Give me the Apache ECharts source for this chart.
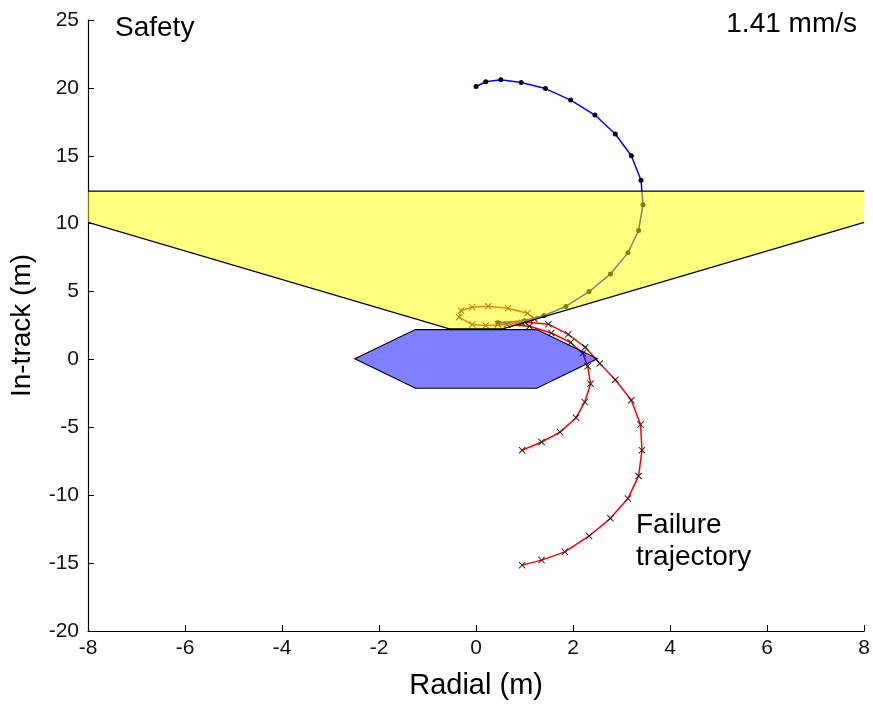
<!DOCTYPE html>
<html>
<head>
<meta charset="utf-8">
<script src="https://cdn.jsdelivr.net/npm/echarts@6/dist/echarts.min.js"></script>
<style>
html,body{margin:0;padding:0;background:#fff;}
#chart{width:873px;height:709px;}
</style>
</head>
<body>
<div id="chart"></div>
<script>
// ---- data ----
var xTicks = [-8, -6, -4, -2, 0, 2, 4, 6, 8];
var yTicks = [-20, -15, -10, -5, 0, 5, 10, 15, 20, 25];

// safety trajectory (blue, dots)
var safetyX = [0.0, 0.2, 0.51, 0.93, 1.43, 1.95, 2.45, 2.87, 3.2, 3.4, 3.44, 3.35, 3.13, 2.77, 2.33, 1.85, 1.4, 1.0, 0.45];
var safetyY = [20.1, 20.45, 20.6, 20.4, 19.95, 19.1, 18.0, 16.6, 15.0, 13.2, 11.4, 9.5, 7.85, 6.3, 5.0, 3.9, 3.24, 2.85, 2.7];

// failure trajectories (red, x markers)
var loopX = [0.64, 0.2, -0.08, -0.35, -0.31, -0.08, 0.25, 0.66, 1.06, 1.2, 0.95, 0.64];
var loopY = [2.57, 2.5, 2.57, 3.11, 3.6, 3.85, 3.92, 3.77, 3.4, 3.0, 2.7, 2.57];

var shortX = [0.45, 1.1, 1.55, 1.95, 2.2, 2.3, 2.36, 2.24, 2.06, 1.73, 1.35, 0.95];
var shortY = [2.6, 2.45, 1.95, 1.25, 0.45, -0.5, -1.79, -3.14, -4.29, -5.35, -6.08, -6.69];

var longX = [0.45, 1.0, 1.49, 1.9, 2.25, 2.55, 2.87, 3.2, 3.39, 3.42, 3.35, 3.13, 2.77, 2.33, 1.83, 1.35, 0.95];
var longY = [2.6, 2.75, 2.6, 1.85, 0.9, -0.3, -1.5, -3.0, -4.8, -6.69, -8.58, -10.25, -11.7, -13.0, -14.17, -14.78, -15.15];

// approach cone (yellow) and spacecraft (hexagon)
var coneX = [-8, 8, 8, 0.55, -0.55, -8];
var coneY = [12.4, 12.4, 10.1, 2.25, 2.25, 10.1];
var hexX = [-2.5, -1.25, 1.25, 2.5, 1.25, -1.25];
var hexY = [0.05, 2.2, 2.2, 0.05, -2.12, -2.12];

function zip(xs, ys) { return xs.map(function (x, i) { return [x, ys[i]]; }); }

var crossPath = 'path://M0,1L1,0L5,4L9,0L10,1L6,5L10,9L9,10L5,6L1,10L0,9L4,5Z';
var fontFam = '"Liberation Sans", Arial, sans-serif';

// cone: fill the whole polygon, outline only the top edge and the slanted edges
var coneSeries = {
  type: 'custom', z: 5, silent: true, coordinateSystem: 'cartesian2d',
  data: [[coneX[0], coneY[0]]], clip: true,
  renderItem: function (params, api) {
    var pts = coneX.map(function (x, i) { return api.coord([x, coneY[i]]); });
    return {
      type: 'group',
      children: [
        { type: 'polygon', shape: { points: pts }, style: { fill: 'rgba(255,255,0,0.5)', stroke: null } },
        { type: 'polyline', shape: { points: [pts[0], pts[1]] }, style: { fill: null, stroke: '#000', lineWidth: 1.2 } },
        { type: 'polyline', shape: { points: [pts[2], pts[3], pts[4], pts[5]] }, style: { fill: null, stroke: '#000', lineWidth: 1.2 } }
      ]
    };
  }
};

var hexSeries = {
  type: 'custom', z: 6, silent: true, coordinateSystem: 'cartesian2d',
  data: [[hexX[0], hexY[0]]], clip: true,
  renderItem: function (params, api) {
    var pts = hexX.map(function (x, i) { return api.coord([x, hexY[i]]); });
    return { type: 'polygon', shape: { points: pts }, style: { fill: 'rgba(0,0,255,0.5)', stroke: '#000', lineWidth: 1.2 } };
  }
};

function redLine(xs, ys) {
  return {
    type: 'line', z: 2,
    data: zip(xs, ys),
    showSymbol: true, symbol: crossPath, symbolSize: 7,
    lineStyle: { color: '#ff0000', width: 1.5 },
    itemStyle: { color: '#222' },
    animation: false
  };
}

var chart = echarts.init(document.getElementById('chart'));
chart.setOption({
  animation: false,
  backgroundColor: '#fff',
  grid: { left: 88, right: 7, top: 20, bottom: 78, containLabel: false },
  xAxis: {
    type: 'value', min: -8, max: 8, interval: 2,
    name: 'Radial (m)', nameLocation: 'middle', nameGap: 40,
    nameTextStyle: { fontSize: 29, color: '#000', fontFamily: fontFam },
    axisLine: { onZero: false, lineStyle: { color: '#000', width: 1.2 } },
    axisTick: { inside: true, length: 6, lineStyle: { color: '#000' } },
    axisLabel: { fontSize: 21, color: '#111', margin: 7, fontFamily: fontFam,
      formatter: function (v) { return xTicks.indexOf(v) >= 0 ? String(v) : ''; } },
    splitLine: { show: false }
  },
  yAxis: {
    type: 'value', min: -20, max: 25, interval: 5,
    name: 'In-track (m)', nameLocation: 'middle', nameGap: 52,
    nameTextStyle: { fontSize: 28, color: '#000', fontFamily: fontFam },
    axisLine: { onZero: false, lineStyle: { color: '#000', width: 1.2 } },
    axisTick: { inside: true, length: 6, lineStyle: { color: '#000' } },
    axisLabel: { fontSize: 21, color: '#111', margin: 9, fontFamily: fontFam,
      formatter: function (v) { return yTicks.indexOf(v) >= 0 ? String(v) : ''; } },
    splitLine: { show: false }
  },
  series: [
    {
      type: 'line', z: 2,
      data: zip(safetyX, safetyY),
      showSymbol: true, symbol: 'circle', symbolSize: 5,
      lineStyle: { color: '#0000ff', width: 1.5 },
      itemStyle: { color: '#000' },
      animation: false
    },
    redLine(loopX, loopY),
    redLine(shortX, shortY),
    redLine(longX, longY),
    coneSeries,
    hexSeries
  ],
  graphic: [
    { type: 'text', left: 115, top: 14, style: { text: 'Safety', fontSize: 28, fill: '#000', fontFamily: fontFam } },
    { type: 'text', right: 16, top: 10, style: { text: '1.41 mm/s', fontSize: 28, fill: '#000', fontFamily: fontFam } },
    { type: 'text', left: 636, top: 509, style: { text: 'Failure\ntrajectory', fontSize: 28, lineHeight: 32, fill: '#000', fontFamily: fontFam } }
  ]
});
</script>
</body>
</html>
